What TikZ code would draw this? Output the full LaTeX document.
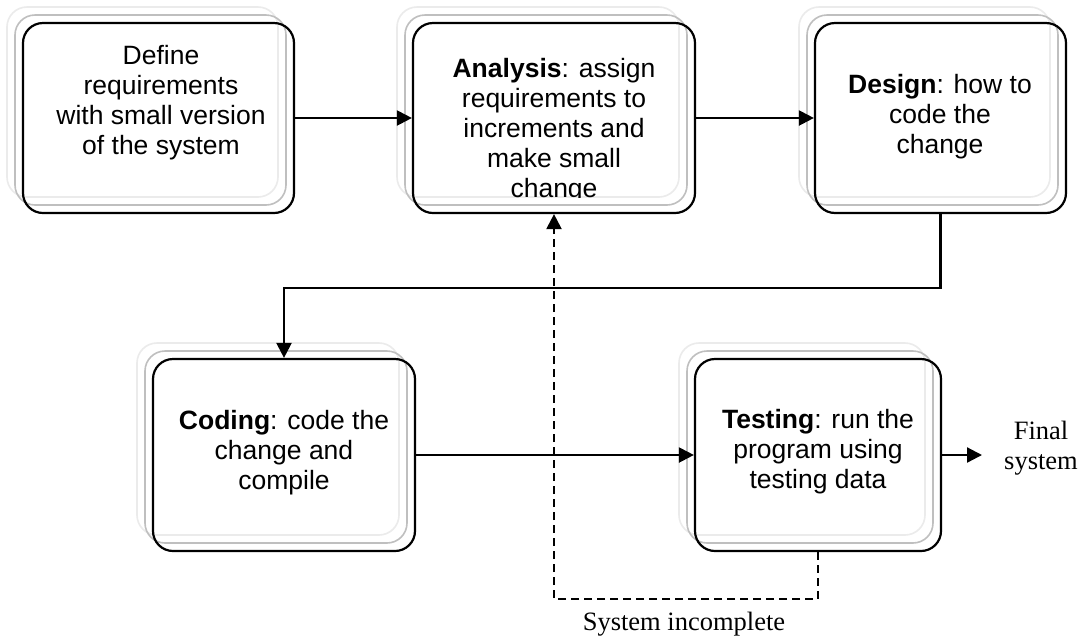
\documentclass[tikz,border=0pt]{standalone}
\usepackage{fontspec}
\setmainfont{Liberation Serif}
\newfontfamily\boxfont{Liberation Sans}
\usetikzlibrary{arrows.meta,fit,calc}
\newcommand\stackbox[5]{%
  \draw[shlight] (#2-16,#3-16) rectangle (#4-16,#5-16);
  \draw[shmid] (#2-8,#3-8) rectangle (#4-8,#5-8);
  \node[box, fit={(#2,#3) (#4,#5)}] (#1) {};
}
\begin{document}
\begin{tikzpicture}[x=1pt,y=-1pt,
  box/.style={draw=black, line width=2.2pt, rounded corners=20pt, inner sep=0pt},
  shmid/.style={draw=black!25, line width=1.6pt, rounded corners=20pt},
  shlight/.style={draw=black!8, line width=1.6pt, rounded corners=20pt},
  btext/.style={font=\boxfont\fontsize{26.5}{30}\selectfont, align=center, inner sep=0pt},
  ltext/.style={font=\fontsize{26.5}{30}\selectfont, align=center, inner sep=0pt},
  conn/.style={line width=2.2pt, -{Triangle[length=15pt,width=15pt]}},
  dconn/.style={conn, dash pattern=on 8pt off 5pt},
]
\fill[white] (0,0) rectangle (1084,641);
\path[use as bounding box] (0,0) rectangle (1084,641);

\stackbox{b1}{23}{23}{294}{213}
\stackbox{b2}{413}{23}{695}{213}
\stackbox{b3}{815}{23}{1066}{213}
\stackbox{b4}{153}{359}{415}{551}
\stackbox{b5}{695}{359}{941}{551}

\node[btext] (t1) at (161,103) {Define\\requirements\\with small version\\of the system};
\begin{scope}
  \clip (413,23) rectangle (695,197);
  \node[btext] (t2) at (554,131) {\textbf{Analysis}: assign\\requirements to\\increments and\\make small\\change};
\end{scope}
\node[btext] (t3) at (940,117) {\textbf{Design}: how to\\code the\\change};
\node[btext] (t4) at (284,453) {\textbf{Coding}: code the\\change and\\compile};
\node[btext] (t5) at (818,452) {\textbf{Testing}: run the\\program using\\testing data};

\draw[conn] (b1.east) -- (b2.west);
\draw[conn] (b2.east) -- (b3.west);
\draw[conn] (b3.south) -- ++(0,74) -| (b4.north);
\draw[conn] (b4.east) -- (b5.west);
\coordinate (fs) at (982,455);
\draw[conn] (b5.east) -- (fs);
\node[ltext] (fst) at (1041,448) {Final\\system};
\draw[dconn] (b5.south) -- ++(0,47) -| (b2.south);
\node[ltext] (si) at (684,624) {System incomplete};
\end{tikzpicture}
\end{document}
